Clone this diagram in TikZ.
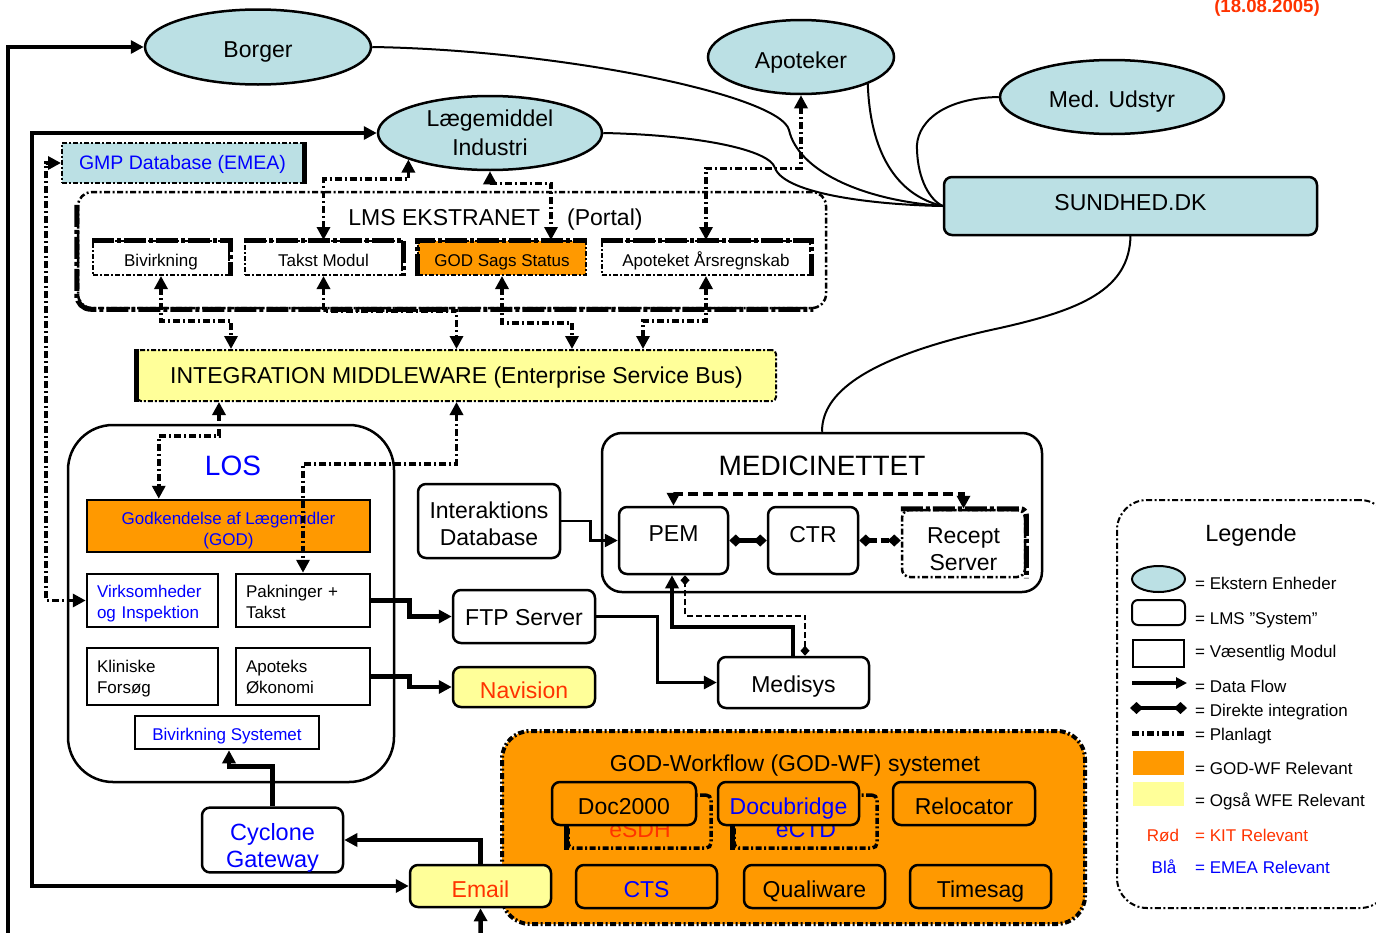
\documentclass[tikz,border=0pt]{standalone}
\usepackage{fontspec}
\setmainfont{Liberation Sans}
\usepackage{tikz}
\usetikzlibrary{arrows.meta, shapes.geometric}
\definecolor{extblue}{RGB}{187, 224, 228}
\definecolor{godorange}{RGB}{255, 153, 0}
\definecolor{wfeyellow}{RGB}{255, 255, 153}
\definecolor{kitred}{RGB}{255, 51, 0}
\definecolor{emeablue}{RGB}{0, 0, 255}
\tikzset{
    >={Triangle[length=13pt, width=13pt]},
    extnode/.style = {draw, ellipse, fill=extblue, line width=2.5pt, inner sep=0em, minimum width=224pt,
      minimum height=74pt, align=center, font=\fontsize{23}{29}\selectfont},
    roundnode/.style = {draw, rectangle, rounded corners=8pt, line width=2.5pt, inner sep=0em, align=center,
      font=\fontsize{23}{27}\selectfont},
    rectanglenode/.style = {draw, rectangle, line width=2.5pt, inner sep=0em, align=center,
      font=\fontsize{17}{21}\selectfont},
    listnode/.style = {rectanglenode, align=left, inner xsep=10pt, text width=111pt, minimum width=131pt},
    portalnode/.style = {draw, rectangle, line width=2pt, dash pattern=on 5pt off 2pt on 2pt off 2pt,
      minimum height=34pt, inner sep=0em, text height=16pt, text depth=0pt, font=\fontsize{17}{21}\selectfont},
    lowtext/.style = {text height=22pt, text depth=0pt},
    framenode/.style = {draw, rectangle, line width=2.5pt, inner sep=0em},
    textnode/.style = {draw=none, fill=none, inner sep=0em, align=center, font=\fontsize{23}{27}\selectfont},
    smalltextnode/.style = {textnode, font=\fontsize{17}{21}\selectfont},
    dashdot/.style = {dash pattern=on 6pt off 2.5pt on 2pt off 2.5pt},
    heavyedge/.style = {line width=5pt, dash pattern=on 22pt off 3pt on 4pt off 3pt},
    connect/.style = {black, line width=4.5pt, ->},
    thinconnect/.style = {black, line width=2.5pt, ->},
    link/.style = {black, line width=2pt},
    planned/.style = {black, line width=3.5pt, dash pattern=on 7pt off 3pt on 2pt off 3pt, <->},
    direct/.style = {black, line width=5pt, {Diamond[length=13pt, width=12pt]}-{Diamond[length=13pt, width=12pt]}}
}

\begin{document}
\begin{tikzpicture}[x=1pt, y=-1pt]
\useasboundingbox (0,0) rectangle (1376,932);

\node [framenode, dashdot, rounded corners=14pt, minimum width=748pt, minimum height=116pt, name=ekstranet] at (452,250) {};
\node [framenode, rounded corners=45pt, minimum width=326pt, minimum height=357pt, name=los] at (231,603.5) {};
\node [framenode, rounded corners=20pt, minimum width=440pt, minimum height=159pt, name=medicinettet] at (822,512.5) {};
\node [framenode, dashdot, line width=4pt, rounded corners=28pt, fill=godorange, minimum width=583pt, minimum height=193pt, name=godwf] at (793.5,827.5) {};
\node [framenode, dashdot, line width=2pt, rounded corners=30pt, minimum width=273pt, minimum height=408pt, name=legende] at (1253.5,704) {};

\node [textnode, name=ekstranettitle] at (495.5,220) {LMS EKSTRANET\hspace{27pt}(Portal)};
\node [textnode, text=emeablue, font=\fontsize{28}{32}\selectfont, name=lostitle] at (233,466) {LOS};
\node [textnode, font=\fontsize{28}{32}\selectfont, name=medititle] at (822,466) {MEDICINETTET};
\node [textnode, name=godwftitle] at (795,766) {GOD-Workflow (GOD-WF) systemet};
\node [textnode, font=\fontsize{23.5}{28}\selectfont, name=legendetitle] at (1251,535) {Legende};
\node [textnode, text=kitred, font=\fontsize{18.6}{22}\selectfont\bfseries, anchor=base, name=dato] at (1267,12) {(18.08.2005)};

\draw [link] (1130.5,235) .. controls (1130,290) and (1080,310) .. (1000,328) .. controls (850,360) and (822,400) .. (medicinettet.north);

\node [extnode, text height=20pt, text depth=0pt, minimum width=226pt, minimum height=75pt, name=borger] at (258,47) {Borger};
\node [extnode, name=lae] at (490,133) {Lægemiddel\\Industri};
\node [extnode, text height=22pt, text depth=0pt, minimum width=186pt, name=apotek] at (801,57) {Apoteker};
\node [extnode, text height=20pt, text depth=0pt, name=medud] at (1112,97) {Med. Udstyr};
\node [roundnode, fill=extblue, text height=12pt, text depth=4pt, minimum width=373pt, minimum height=58pt, name=sundhed] at (1130.5,206) {SUNDHED.DK};

\node [portalnode, fill=extblue, text=emeablue, text height=17pt, text depth=4.5pt, font=\fontsize{19.5}{23}\selectfont, minimum width=241pt, minimum height=40pt, name=gmp] at (182.5,163) {GMP Database (EMEA)};
\node [portalnode, minimum width=136pt, name=mbiv] at (161,258) {Bivirkning};
\node [portalnode, minimum width=157pt, name=mtakst] at (323.5,258) {Takst Modul};
\node [portalnode, fill=godorange, minimum width=168pt, name=mgod] at (502,258) {GOD Sags Status};
\node [portalnode, minimum width=208pt, name=mapo] at (706,258) {Apoteket Årsregnskab};
\node [portalnode, fill=wfeyellow, rounded corners=4pt, text height=20pt, text depth=4.5pt, font=\fontsize{23}{27}\selectfont, minimum width=639pt, minimum height=51pt, name=mw] at (456.5,375.5) {INTEGRATION MIDDLEWARE (Enterprise Service Bus)};

\node [rectanglenode, fill=godorange, text=emeablue, minimum width=283pt, minimum height=52pt, name=god] at (228.5,526) {\rule{0pt}{22.4pt}Godkendelse af Lægemidler\\(GOD)};
\node [listnode, text=emeablue, minimum height=53pt, name=virk] at (152.5,600.5) {\rule{0pt}{18.4pt}Virksomheder\\og Inspektion};
\node [listnode, text width=114pt, minimum width=134pt, minimum height=53pt, name=pak] at (303,600.5) {\rule{0pt}{15.4pt}Pakninger +\\Takst};
\node [listnode, minimum height=57pt, name=klin] at (152.5,676.5) {\rule{0pt}{16.4pt}Kliniske\\Forsøg};
\node [listnode, text width=114pt, minimum width=134pt, minimum height=57pt, name=apoek] at (303,676.5) {\rule{0pt}{14.4pt}Apoteks\\Økonomi};
\node [rectanglenode, text=emeablue, text height=16pt, text depth=0pt, minimum width=184pt, minimum height=33pt, name=bivsys] at (227,732.5) {Bivirkning Systemet};

\node [roundnode, minimum width=142pt, minimum height=74pt, name=idb] at (489,521) {\rule{0pt}{23pt}Interaktions\\Database};
\node [roundnode, minimum width=109pt, minimum height=67pt, text depth=13pt, name=pem] at (673.5,540.5) {PEM};
\node [roundnode, minimum width=90pt, minimum height=67pt, text depth=13pt, name=ctr] at (813,540.5) {CTR};
\node [roundnode, dashdot, minimum width=123pt, minimum height=67pt, name=recept] at (963.5,543.5) {\rule{0pt}{27pt}Recept\\Server};
\node [roundnode, lowtext, text height=18pt, minimum width=142pt, minimum height=53pt, name=ftp] at (524,616.5) {FTP Server};
\node [roundnode, lowtext, text height=20pt, minimum width=151pt, minimum height=51pt, name=medisys] at (793.5,682.5) {Medisys};
\node [roundnode, lowtext, fill=wfeyellow, text=kitred, minimum width=142pt, minimum height=40pt, name=navision] at (524,687) {Navision};
\node [roundnode, text=emeablue, font=\fontsize{23.5}{27}\selectfont, minimum width=141pt, minimum height=64pt, name=cyclone] at (272.5,840) {\rule{0pt}{33pt}Cyclone\\Gateway};
\node [roundnode, lowtext, fill=wfeyellow, text=kitred, minimum width=141pt, minimum height=42pt, name=email] at (480.5,886) {Email};

\node [roundnode, dashdot, line width=3.5pt, rounded corners=5pt, minimum width=143pt, minimum height=53pt, name=esdh] at (639.5,821.5) {};
\node [roundnode, dashdot, line width=3.5pt, rounded corners=5pt, minimum width=143pt, minimum height=53pt, name=ectd] at (805.5,821.5) {};
\draw [line width=4.5pt] (esdh.north west) -- (esdh.south west);
\draw [line width=4.5pt] (ectd.north west) -- (ectd.south west);
\node [textnode, text=kitred, name=esdhtext] at (640,830) {eSDH};
\node [textnode, text=emeablue, name=ectdtext] at (806,830) {eCTD};
\node [roundnode, lowtext, fill=godorange, minimum width=144pt, minimum height=43pt, name=doc2000] at (624,803.5) {Doc2000};
\node [roundnode, lowtext, fill=godorange, text=emeablue, minimum width=141pt, minimum height=43pt, name=docubridge] at (788.5,803.5) {Docubridge};
\node [roundnode, lowtext, fill=godorange, minimum width=142pt, minimum height=43pt, name=relocator] at (964,803.5) {Relocator};
\node [roundnode, lowtext, fill=godorange, text=emeablue, minimum width=141pt, minimum height=43pt, name=cts] at (646.5,886.5) {CTS};
\node [roundnode, lowtext, fill=godorange, minimum width=141pt, minimum height=43pt, name=qualiware] at (814.5,886.5) {Qualiware};
\node [roundnode, lowtext, fill=godorange, minimum width=141pt, minimum height=43pt, name=timesag] at (980.5,886.5) {Timesag};

\draw [heavyedge, line width=5pt, rounded corners=14pt] ([yshift=-14pt]ekstranet.north west) -- (ekstranet.south west) -- ([xshift=-14pt]ekstranet.south east);
\draw [heavyedge] (mbiv.north west) -- (mbiv.north east) -- (mbiv.south east);
\draw [heavyedge] (mtakst.north west) -- (mtakst.north east) -- (mtakst.south east);
\draw [heavyedge] (mgod.south west) -- (mgod.north west) -- (mgod.north east);
\draw [heavyedge] (mapo.north west) -- (mapo.north east) -- (mapo.south east);
\draw [heavyedge, rounded corners=6pt] (recept.north west) -- (recept.north east) -- (recept.south east);
\draw [line width=5pt] (mw.north west) -- (mw.south west);
\draw [line width=5pt] (gmp.north east) -- (gmp.south east);

\draw [link] (borger.east) .. controls (560,50) and (780,95) .. (789,130) .. controls (798,170) and (860,200) .. (sundhed.west);
\draw [link] (lae.east) .. controls (700,135) and (770,150) .. (775,168) .. controls (785,195) and (880,205) .. (sundhed.west);
\draw [link] (apotek.-22) .. controls (870,150) and (895,195) .. (sundhed.west);
\draw [link] (medud.west) .. controls (940,98) and (915,125) .. (917,150) .. controls (918,180) and (930,200) .. (sundhed.west);

\coordinate (borgerline) at (8,960);
\coordinate (mailline) at (32,500);
\coordinate (gmpline) at (46,400);
\coordinate (emailfeed) at (481,960);
\draw [connect] (borgerline) |- (borger.west);
\draw [connect, line width=3.5pt, <->] (email.west) -| (mailline) |- (lae.west);
\draw [connect] (emailfeed) -- (email.south);
\draw [planned] (virk.west) -| (gmpline) |- (gmp.west);

\draw [planned] (mtakst.north) -- ++(0,-61) -| (lae.-162);
\draw [planned] (lae.south) -- ++(0,12) -| ([xshift=49pt]mgod.north);
\draw [planned] (apotek.south) -- ++(0,73) -| (mapo.north);
\draw [planned] (mbiv.south) -- ++(0,45) -| ([xshift=95pt]mw.north west);
\draw [planned] (mtakst.south) -- ++(0,35) -| (mw.north);
\draw [planned] (mgod.south) -- ++(0,47) -| ([xshift=436pt]mw.north west);
\draw [planned] (mapo.south) -- ++(0,45) -| ([xshift=507pt]mw.north west);
\draw [planned] ([xshift=83pt]mw.south west) -- ++(0,34) -| ([xshift=73pt]god.north west);
\draw [planned] (mw.south) -- ++(0,62) -| (pak.north);

\draw [planned, dash pattern=on 10pt off 5pt] (pem.north) -- ++(0,-12) -| (recept.north);
\draw [direct] (pem.east) -- (ctr.west);
\draw [direct, dash pattern=on 8pt off 4pt] (ctr.east) -- (ctr.east -| recept.west);
\draw [thinconnect] (idb.east) -- ++(29,0) |- (pem.west);

\draw [connect] (pak.east) -- ++(38,0) |- (ftp.west);
\draw [thinconnect, line width=3pt] (ftp.east) -- ++(61,0) |- (medisys.west);
\draw [connect] (apoek.east) -- ++(38,0) |- (navision.west);
\draw [connect] ([xshift=-0.5pt]medisys.north) -- ++(0,-29) -| ([xshift=-1.5pt]pem.south);
\draw [link, dash pattern=on 6pt off 3pt, {Diamond[length=10pt, width=9pt]}-{Diamond[length=10pt, width=9pt]}] ([xshift=11.5pt]medisys.north) -- ++(0,-40) -| ([xshift=11.5pt]pem.south);
\draw [connect] (cyclone.north) -- ++(0,-40) -| ([xshift=2pt]bivsys.south);
\draw [connect] (email.north) |- (cyclone.east);

\node [extnode, line width=2pt, minimum width=53pt, minimum height=26pt, name=lgext] at (1158.5,579) {};
\node [roundnode, line width=2pt, rounded corners=6pt, minimum width=53pt, minimum height=25pt, name=lgsys] at (1158.5,612.5) {};
\node [rectanglenode, line width=2pt, minimum width=51pt, minimum height=27pt, name=lgmod] at (1158.5,653.5) {};
\coordinate (lgflowa) at (1132,683);
\coordinate (lgflowb) at (1187,683);
\coordinate (lgdira) at (1130,708);
\coordinate (lgdirb) at (1187,708);
\coordinate (lgplana) at (1132,733);
\coordinate (lgplanb) at (1185,733);
\draw [connect, line width=4pt, >={Triangle[length=11pt, width=11pt]}] (lgflowa) -- (lgflowb);
\draw [direct, line width=4pt] (lgdira) -- (lgdirb);
\draw [planned, line width=5pt, -] (lgplana) -- (lgplanb);
\node [fill=godorange, inner sep=0em, minimum width=51pt, minimum height=24pt, name=lgorange] at (1158.5,762.5) {};
\node [fill=wfeyellow, inner sep=0em, minimum width=51pt, minimum height=24pt, name=lgyellow] at (1158.5,794) {};
\node [smalltextnode, text=kitred, anchor=base, name=lgrod] at (1163,841) {Rød};
\node [smalltextnode, text=emeablue, anchor=base, name=lgbla] at (1164,873) {Blå};

\node [smalltextnode, anchor=base west, name=lgtxtext] at (1195,589) {= Ekstern Enheder};
\node [smalltextnode, anchor=base west, name=lgtxtsys] at (1195,624) {= LMS ”System”};
\node [smalltextnode, anchor=base west, name=lgtxtmod] at (1195,657) {= Væsentlig Modul};
\node [smalltextnode, anchor=base west, name=lgtxtflow] at (1195,692) {= Data Flow};
\node [smalltextnode, anchor=base west, name=lgtxtdir] at (1195,716) {= Direkte integration};
\node [smalltextnode, anchor=base west, name=lgtxtplan] at (1195,740) {= Planlagt};
\node [smalltextnode, anchor=base west, name=lgtxtgod] at (1195,774) {= GOD-WF Relevant};
\node [smalltextnode, anchor=base west, name=lgtxtwfe] at (1195,806) {= Også WFE Relevant};
\node [smalltextnode, text=kitred, anchor=base west, name=lgtxtkit] at (1195,841) {= KIT Relevant};
\node [smalltextnode, text=emeablue, anchor=base west, name=lgtxtemea] at (1195,873) {= EMEA Relevant};
\end{tikzpicture}
\end{document}
